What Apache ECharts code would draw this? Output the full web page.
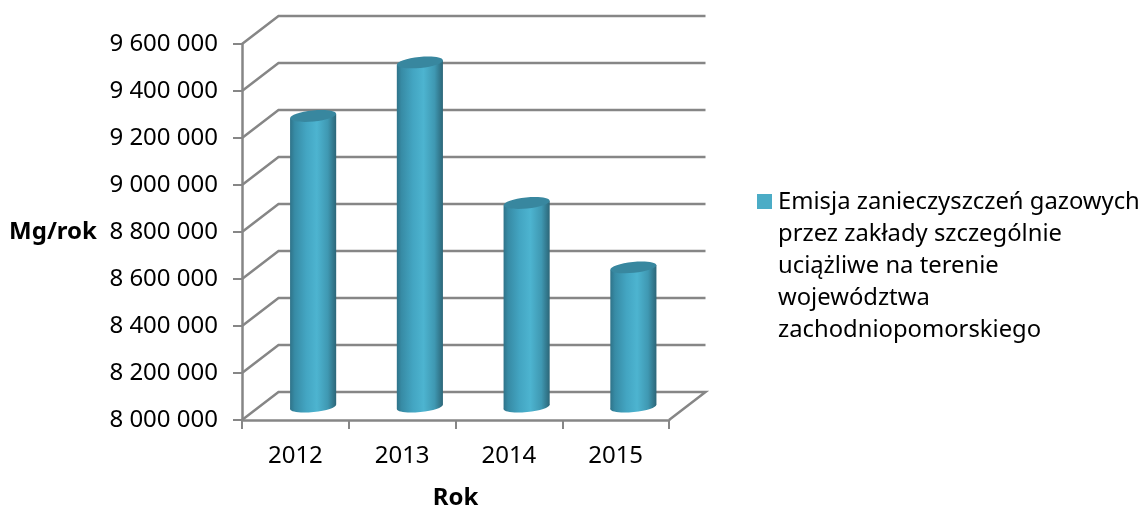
<!DOCTYPE html>
<html><head><meta charset="utf-8">
<style>html,body{margin:0;padding:0;background:#fff}#c{width:1144px;height:506px}</style>
<script src="https://cdn.jsdelivr.net/npm/echarts@6/dist/echarts.min.js"></script>
</head><body><div id="c"></div>
<script>
const categories = ['2012','2013','2014','2015'];
const emissions = [9234000, 9462000, 8864000, 8590000];
const gridValues = [8000000,8200000,8400000,8600000,8800000,9000000,9200000,9400000,9600000];
const seriesName = 'Emisja zanieczyszczeń gazowych\nprzez zakłady szczególnie\nuciążliwe na terenie\nwojewództwa\nzachodniopomorskiego';

const FONT = '"Noto Sans"';
const GREY = '#868686';
const DX = 36.5, DY = -28;
const chart = echarts.init(document.getElementById('c'), null, {renderer:'canvas'});
const bodyFill = {type:'linear',x:0,y:0,x2:1,y2:0,colorStops:[
  {offset:0,color:'#2f7389'},{offset:.1,color:'#378ba5'},{offset:.35,color:'#43a5c2'},
  {offset:.58,color:'#4db4d0'},{offset:.82,color:'#3f98b2'},{offset:1,color:'#2c6678'}]};

chart.setOption({
  animation:false,
  grid:{left:242,top:44,width:427,height:376,containLabel:false,outerBoundsMode:'none'},
  legend:{show:true,left:757,top:186,orient:'vertical',icon:'path://M0,0L0,0M0,8H15V23H0ZM0,160L0,160',itemWidth:15,itemHeight:160,itemGap:0,
    data:[{name:seriesName,itemStyle:{color:'#4bacc6'}}],
    textStyle:{fontFamily:FONT,fontSize:23.8,color:'#000',lineHeight:32,padding:[0,0,0,1]},selectedMode:false,
    padding:0,align:'left'},
  xAxis:{type:'category',data:categories,
    axisLine:{lineStyle:{color:GREY,width:2.5}},axisTick:{show:true,length:9,alignWithLabel:false,lineStyle:{color:GREY,width:2}},
    axisLabel:{fontFamily:FONT,fontSize:24,color:'#000',margin:24},
    name:'Rok',nameLocation:'middle',nameGap:66,nameTextStyle:{fontFamily:FONT,fontSize:24,fontWeight:'bold',color:'#000'}},
  yAxis:{type:'value',min:8000000,max:9600000,interval:200000,
    axisLine:{show:true,lineStyle:{color:GREY,width:2.5}},axisTick:{show:true,length:9,lineStyle:{color:GREY,width:2}},
    splitLine:{show:false},
    axisLabel:{fontFamily:FONT,fontSize:24,color:'#000',margin:24,
      formatter:v=>String(v).replace(/\B(?=(\d{3})+$)/g,' ')},
    name:'Mg/rok',nameLocation:'middle',nameRotate:0,nameGap:145,nameTextStyle:{fontFamily:FONT,fontSize:24,fontWeight:'bold',color:'#000',align:'right'}},
  series:[
    {type:'custom',name:'walls',silent:true,z:1,data:gridValues.map(v=>[v]),encode:{y:0},
     renderItem(p,api){
       const v=api.value(0);
       const a=api.coord([0,v]);
       const left=p.coordSys.x, right=p.coordSys.x+p.coordSys.width;
       const pts=[[left,a[1]],[left+DX,a[1]+DY],[right+DX,a[1]+DY]];
       if(v===gridValues[0]) pts.push([right,a[1]]);
       return {type:'polyline',shape:{points:pts},style:{fill:null,stroke:GREY,lineWidth:2.5,lineJoin:'miter'}};
     }},
    {type:'custom',name:seriesName,z:3,itemStyle:{color:'#4bacc6'},
     data:categories.map((c,i)=>[i,emissions[i]]),encode:{x:0,y:1},
     renderItem(p,api){
       const i=api.value(0), v=api.value(1);
       const top=api.coord([i,v]), base=api.coord([i,gridValues[0]]);
       const band=api.size([1,0])[0];
       const cx=top[0]+DX/2-0.5, w=band*0.432, rot=0.1, rise=w/2*Math.sin(rot);
       const ty=top[1]+DY/2, by=base[1]+DY/2+1;
       const l=cx-w/2, r=cx+w/2;
       return {type:'group',children:[
         {type:'ellipse',shape:{cx:cx,cy:by,rx:w/2,ry:5},rotation:rot,originX:cx,originY:by,style:{fill:bodyFill}},
         {type:'polygon',shape:{points:[[l,ty+rise],[r,ty-rise],[r,by-rise],[l,by+rise]]},style:{fill:bodyFill}},
         {type:'ellipse',shape:{cx:cx,cy:ty,rx:w/2,ry:5.5},rotation:rot,originX:cx,originY:ty,style:{fill:'#38879f'}}
       ]};
     }}
  ]
});
</script></body></html>
